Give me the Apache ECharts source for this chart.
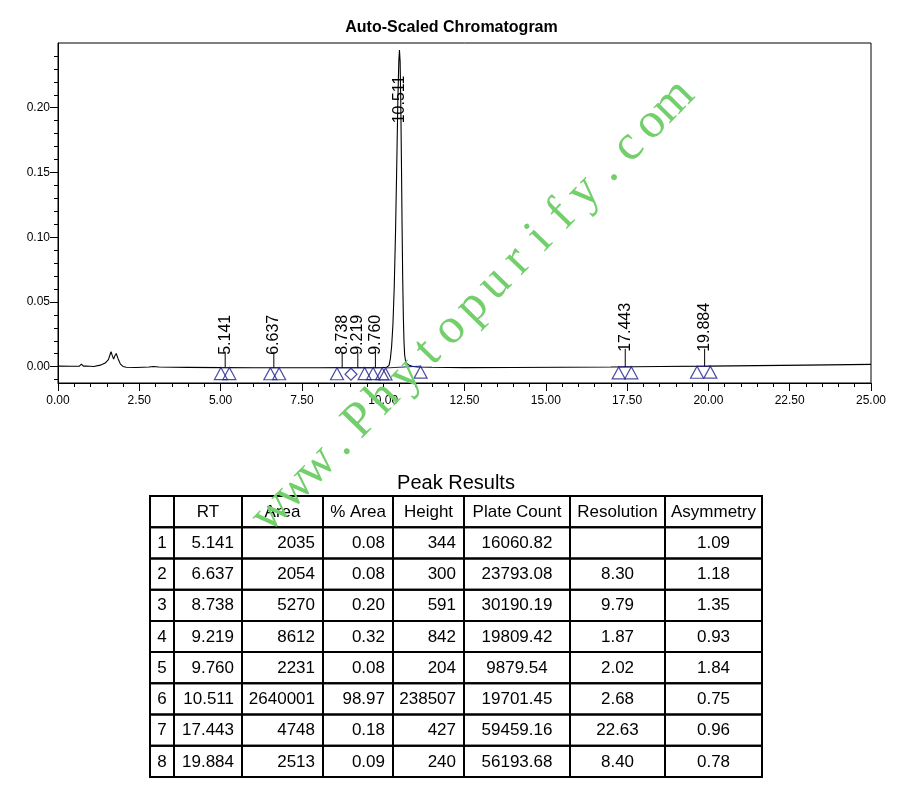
<!DOCTYPE html>
<html>
<head>
<meta charset="utf-8">
<script src="https://cdn.jsdelivr.net/npm/echarts@6/dist/echarts.min.js"></script>
<style>html,body{margin:0;padding:0;background:#fff}#c{width:903px;height:805px}</style>
</head>
<body>
<div id="c"></div>
<script>
// ---------- texts ----------
const chartTitle = 'Auto-Scaled Chromatogram';
const tableTitle = 'Peak Results';
const watermark = 'www.Phytopurify.com';

// ---------- axis ticks ----------
const yTickValues = [0, 0.05, 0.10, 0.15, 0.20];
const yMinorTickValues = [-0.01, 0.01, 0.02, 0.03, 0.04, 0.06, 0.07, 0.08, 0.09, 0.11, 0.12, 0.13, 0.14,
  0.16, 0.17, 0.18, 0.19, 0.21, 0.22, 0.23, 0.24];

// ---------- chromatogram trace (minutes, AU) ----------
const traceTime = [0.00, 0.40, 0.65, 0.72, 0.78, 0.86, 0.92, 0.98, 1.10, 1.30, 1.45, 1.55, 1.63, 1.67, 1.71,
  1.75, 1.79, 1.85, 1.92, 2.00, 2.10, 2.40, 2.80, 2.93, 3.10, 4.00, 5.00, 6.00, 7.00, 8.00, 9.00, 9.80,
  10.10, 10.18, 10.22, 10.26, 10.30, 10.34, 10.38, 10.42, 10.45, 10.48, 10.50, 10.52, 10.54, 10.56, 10.58,
  10.60, 10.62, 10.64, 10.66, 10.69, 10.74, 10.82, 10.92, 11.05, 11.50, 12.50, 14.00, 15.50, 17.00, 18.50,
  20.00, 21.50, 23.00, 25.00];
const traceSignal = [0.0004, 0.0003, 0.0003, 0.0020, 0.0004, 0.0004, 0.0013, 0.0003, 0.0002, 0.0012, 0.0028,
  0.0055, 0.0115, 0.0085, 0.0058, 0.0085, 0.0102, 0.0060, 0.0020, 0.0002, -0.0004, -0.0006, -0.0003, 0.0001,
  -0.0003, -0.0005, -0.0007, -0.0008, -0.0008, -0.0008, -0.0007, -0.0007,
  -0.0006, 0.0010, 0.0060, 0.0160, 0.0330, 0.0620, 0.1050, 0.1600, 0.2050, 0.2360, 0.2445, 0.2360, 0.2050,
  0.1600, 0.1100, 0.0680, 0.0380, 0.0190, 0.0090, 0.0040, 0.0020, 0.0008, 0.0002, -0.0002, -0.0004, -0.0007,
  -0.0006, -0.0004, -0.0002, 0.0001, 0.0004, 0.0008, 0.0012, 0.0018];

// ---------- peak labels ----------
const peakRT = [5.141, 6.637, 8.738, 9.219, 9.760, 10.511, 17.443, 19.884];
const peakLabelY = [0.0092, 0.0092, 0.0092, 0.0092, 0.0092, 0.188, 0.0115, 0.0115];
const peakBaseY = [-0.0007, -0.0008, -0.0008, -0.0007, -0.0007, -0.0006, -0.0002, 0.0003];

// ---------- integration markers ----------
const markTime = [5.01, 5.27, 6.53, 6.80, 8.58, 9.43, 9.69, 9.97, 10.07, 11.15, 17.24, 17.63, 19.65, 20.06];
const markSignal = [-0.0007, -0.0007, -0.0008, -0.0008, -0.0008, -0.0007, -0.0007, -0.0008, -0.0010, 0.0004,
  -0.0002, -0.0001, 0.0003, 0.0004];
const valleyTime = [9.01];
const valleySignal = [-0.0008];
const baselineSegments = [[0, 1], [2, 3], [4, 7], [8, 9], [10, 11], [12, 13]];

// ---------- peak table ----------
const tableHeaders = ['', 'RT', 'Area', '% Area', 'Height', 'Plate Count', 'Resolution', 'Asymmetry'];
const peakNo = [1, 2, 3, 4, 5, 6, 7, 8];
const peakArea = [2035, 2054, 5270, 8612, 2231, 2640001, 4748, 2513];
const peakPctArea = [0.08, 0.08, 0.20, 0.32, 0.08, 98.97, 0.18, 0.09];
const peakHeight = [344, 300, 591, 842, 204, 238507, 427, 240];
const plateCount = [16060.82, 23793.08, 30190.19, 19809.42, 9879.54, 19701.45, 59459.16, 56193.68];
const resolution = [null, 8.30, 9.79, 1.87, 2.02, 2.68, 22.63, 8.40];
const asymmetry = [1.09, 1.18, 1.35, 0.93, 1.84, 0.75, 0.96, 0.78];

// ---------- layout / style ----------
const FONT = '"Liberation Sans", Arial, sans-serif';
const NAVY = '#1e1e8c';
const colEdges = [0, 24, 92, 173, 243, 314, 420, 515, 612];
const colAlign = ['center', 'right', 'right', 'right', 'right', 'center', 'center', 'center'];

// build table cells
const cellData = [];
const cellText = [];
const cellAlign = [];
tableHeaders.forEach((h, c) => { cellData.push([c, 0]); cellText.push(h); cellAlign.push('center'); });
peakNo.forEach((n, i) => {
  const row = [String(n), peakRT[i].toFixed(3), String(peakArea[i]), peakPctArea[i].toFixed(2),
    String(peakHeight[i]), plateCount[i].toFixed(2),
    resolution[i] == null ? '' : resolution[i].toFixed(2), asymmetry[i].toFixed(2)];
  row.forEach((t, c) => { cellData.push([c, i + 1]); cellText.push(t); cellAlign.push(colAlign[c]); });
});

const chart = echarts.init(document.getElementById('c'), null, { renderer: 'canvas' });

const baselineSeries = baselineSegments.map(([a, b]) => ({
  type: 'line', xAxisIndex: 0, yAxisIndex: 0, symbol: 'none', silent: true, z: 3,
  lineStyle: { color: NAVY, width: 1 },
  data: [[markTime[a], markSignal[a]], [markTime[b], markSignal[b]]]
}));

const option = {
  animation: false,
  backgroundColor: '#fff',
  textStyle: { fontFamily: FONT },
  title: [{
    text: chartTitle, left: 'center', top: 15,
    textStyle: { fontSize: 16, fontWeight: 'bold', color: '#000', fontFamily: FONT }
  }],
  grid: [
    { left: 58, top: 43, width: 813, height: 340, show: true, borderColor: '#000', borderWidth: 1 },
    { left: 150, top: 496, width: 612, height: 281 }
  ],
  xAxis: [
    {
      gridIndex: 0, type: 'value', min: 0, max: 25, interval: 2.5,
      axisLine: { onZero: false, lineStyle: { color: '#000', width: 1 } },
      axisTick: { show: true, length: 8, lineStyle: { color: '#000' } },
      minorTick: { show: true, splitNumber: 5, length: 4, lineStyle: { color: '#000' } },
      splitLine: { show: false },
      axisLabel: { color: '#000', fontSize: 12, margin: 12, formatter: v => v.toFixed(2) }
    },
    { gridIndex: 1, type: 'value', min: 0, max: 612, show: false }
  ],
  yAxis: [
    {
      gridIndex: 0, type: 'value', min: -0.0126, max: 0.25, position: 'left',
      axisLine: { show: true, onZero: false, lineStyle: { color: '#000', width: 1 } },
      axisTick: { show: true, length: 8, customValues: yTickValues, lineStyle: { color: '#000' } },
      splitLine: { show: false },
      axisLabel: { color: '#000', fontSize: 12, margin: 8, customValues: yTickValues, formatter: v => v.toFixed(2) }
    },
    {
      gridIndex: 0, type: 'value', min: -0.0126, max: 0.25, position: 'left',
      axisLine: { show: false },
      axisTick: { show: true, length: 4, customValues: yMinorTickValues, lineStyle: { color: '#000' } },
      axisLabel: { show: false },
      splitLine: { show: false }
    },
    { gridIndex: 1, type: 'value', min: 0, max: 9, inverse: true, show: false }
  ],
  series: [
    {
      type: 'line', xAxisIndex: 0, yAxisIndex: 0, symbol: 'none', silent: true, z: 2,
      lineStyle: { color: '#000', width: 1.1 },
      data: traceTime.map((t, i) => [t, traceSignal[i]])
    },
    ...baselineSeries,
    {
      type: 'scatter', xAxisIndex: 0, yAxisIndex: 0, silent: true, z: 4,
      symbol: 'triangle', symbolSize: [13, 12], symbolOffset: [0, 6],
      itemStyle: { color: 'rgba(0,0,0,0)', borderColor: NAVY, borderWidth: 1.2 },
      data: markTime.map((t, i) => [t, markSignal[i]])
    },
    {
      type: 'scatter', xAxisIndex: 0, yAxisIndex: 0, silent: true, z: 4,
      symbol: 'diamond', symbolSize: [12, 12], symbolOffset: [0, 6.5],
      itemStyle: { color: 'rgba(0,0,0,0)', borderColor: NAVY, borderWidth: 1.2 },
      data: valleyTime.map((t, i) => [t, valleySignal[i]])
    },
    {
      type: 'custom', xAxisIndex: 0, yAxisIndex: 0, silent: true, z: 5, clip: false,
      data: peakRT.map((t, i) => [t, peakLabelY[i], peakBaseY[i]]),
      renderItem: (params, api) => {
        const rt = api.value(0), ly = api.value(1), by = api.value(2);
        const p = api.coord([rt, ly]);
        const b = api.coord([rt, by]);
        const children = [];
        if (ly < 0.05) {
          children.push({ type: 'line', shape: { x1: b[0], y1: b[1], x2: b[0], y2: p[1] - 3 },
            style: { stroke: '#000', lineWidth: 1 } });
        }
        children.push({
          type: 'text', x: p[0], y: p[1], rotation: Math.PI / 2,
          style: { text: rt.toFixed(3), font: '16px ' + FONT, fill: '#000', align: 'left', verticalAlign: 'middle' }
        });
        return { type: 'group', children };
      }
    },
    {
      type: 'custom', xAxisIndex: 1, yAxisIndex: 2, silent: true, z: 5, clip: false,
      data: cellData,
      renderItem: (params, api) => {
        const c = api.value(0), r = api.value(1);
        const p0 = api.coord([colEdges[c], r]);
        const p1 = api.coord([colEdges[c + 1], r + 1]);
        const al = cellAlign[params.dataIndex];
        const tx = al === 'right' ? p1[0] - 8 : (p0[0] + p1[0]) / 2;
        return {
          type: 'group', children: [
            { type: 'rect', shape: { x: p0[0], y: p0[1], width: p1[0] - p0[0], height: p1[1] - p0[1] },
              style: { fill: 'none', stroke: '#000', lineWidth: 2 } },
            { type: 'text', x: tx, y: (p0[1] + p1[1]) / 2 + 0.5,
              style: { text: cellText[params.dataIndex], font: '17px ' + FONT, fill: '#000',
                align: al, verticalAlign: 'middle' } }
          ]
        };
      }
    }
  ],
  graphic: [
    {
      type: 'text', x: 456, y: 483, z: 10,
      style: { text: tableTitle, font: '20px ' + FONT, fill: '#000', align: 'center', verticalAlign: 'middle' }
    },
    {
      type: 'group', x: 272, y: 512, rotation: Math.PI / 4 + 0.012, z: 100,
      children: watermark.split('').map((ch, i) => ({
        type: 'text', x: i * 31.9, y: 0, z: 100,
        style: { text: ch, font: '50px "Liberation Serif", "Times New Roman", serif', fill: '#72cf6b',
          align: 'center', verticalAlign: 'middle' }
      }))
    }
  ]
};
chart.setOption(option);
</script>
</body>
</html>
